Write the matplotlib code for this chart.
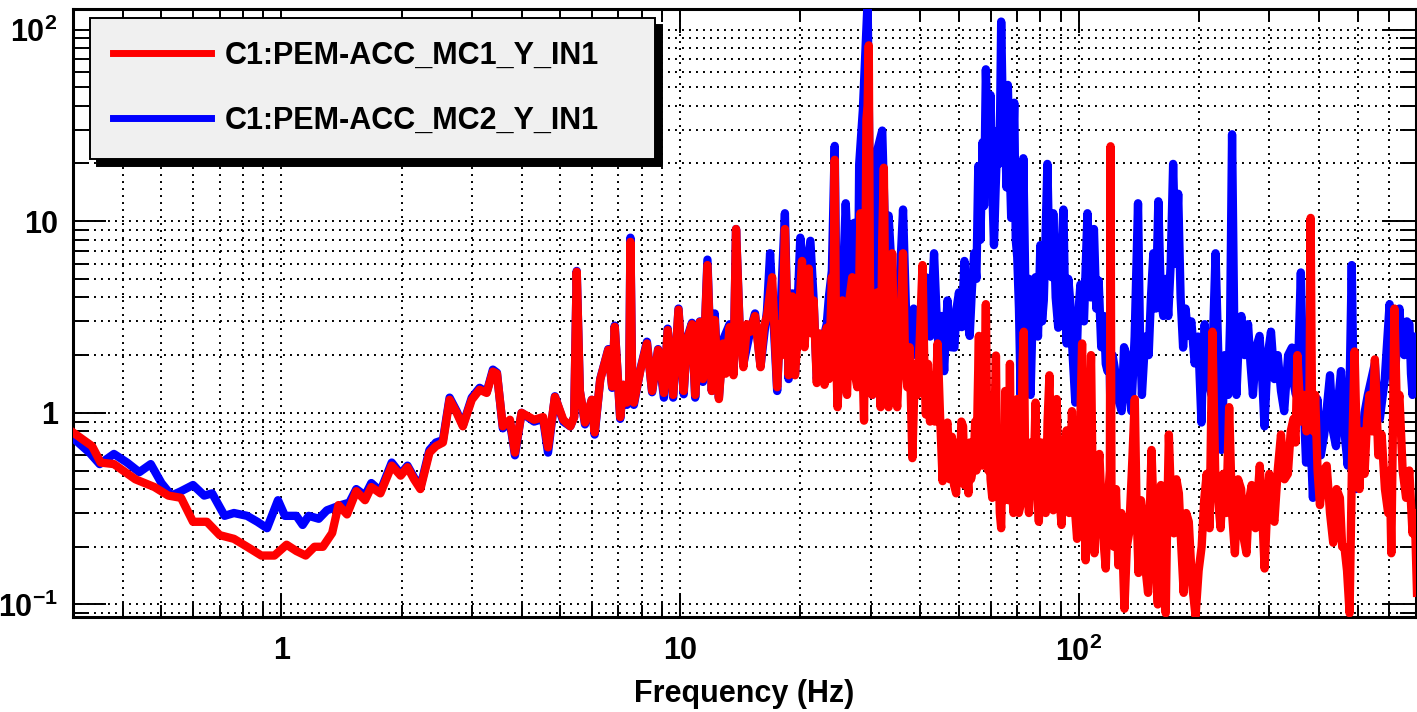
import matplotlib
matplotlib.use("Agg")
import matplotlib.pyplot as plt
from matplotlib import ticker

plt.rcParams['font.family'] = ['Liberation Sans', 'DejaVu Sans']
plt.rcParams['font.weight'] = 'bold'
plt.rcParams['mathtext.fontset'] = 'custom'
plt.rcParams['mathtext.rm'] = 'Liberation Sans:bold'
plt.rcParams['mathtext.it'] = 'Liberation Sans:bold'
plt.rcParams['mathtext.bf'] = 'Liberation Sans:bold'

# --- data: (frequency Hz, amplitude) ---
red_label = "C1:PEM-ACC_MC1_Y_IN1"
blue_label = "C1:PEM-ACC_MC2_Y_IN1"

red_low = [  # 0.3 - 10 Hz
    (0.30, 0.79), (0.335, 0.67), (0.352, 0.55), (0.38, 0.54), (0.43, 0.45), (0.48, 0.41),
    (0.52, 0.37), (0.56, 0.36), (0.60, 0.27), (0.65, 0.27), (0.70, 0.23), (0.76, 0.22),
    (0.82, 0.20), (0.89, 0.18), (0.96, 0.18), (1.03, 0.205), (1.09, 0.19), (1.15, 0.18),
    (1.21, 0.20), (1.27, 0.20), (1.34, 0.236), (1.39, 0.33), (1.46, 0.295), (1.54, 0.39),
    (1.62, 0.35), (1.68, 0.41), (1.77, 0.38), (1.89, 0.53), (1.99, 0.47), (2.07, 0.52),
    (2.15, 0.45), (2.23, 0.40), (2.35, 0.62), (2.44, 0.67), (2.54, 0.70), (2.64, 1.17),
    (2.75, 1.0), (2.85, 0.85), (3.0, 1.17), (3.14, 1.32), (3.27, 1.27), (3.39, 1.64),
    (3.47, 1.6), (3.59, 0.85), (3.74, 0.92), (3.85, 0.62), (4.0, 1.0), (4.3, 0.92),
    (4.53, 0.95), (4.66, 0.66), (4.85, 1.21), (5.09, 0.92), (5.3, 0.85), (5.42, 0.95),
    (5.5, 5.45), (5.6, 1.3), (5.77, 0.89), (6.0, 1.17), (6.1, 0.79), (6.3, 1.49),
    (6.6, 2.13), (6.75, 1.37), (6.85, 2.81), (7.07, 0.95), (7.2, 1.4), (7.35, 1.13),
    (7.45, 1.5), (7.5, 7.8), (7.58, 1.3), (7.65, 1.13), (7.95, 1.68), (8.25, 2.3),
    (8.5, 1.3), (8.8, 2.13), (9.1, 1.27), (9.3, 2.7), (9.6, 1.24), (9.9, 3.45),
]
red_mid = [  # 10 - 70 Hz
    (10.2, 1.3), (10.4, 2.4), (10.7, 2.9), (10.9, 1.24), (11.2, 2.98), (11.4, 1.5),
    (11.7, 5.9), (12.0, 1.3), (12.2, 3.05), (12.5, 1.18), (12.8, 2.3), (13.0, 1.6),
    (13.3, 2.8), (13.6, 1.57), (13.8, 9.1), (14.1, 2.65), (14.4, 1.73), (14.7, 2.9),
    (15.0, 2.65), (15.4, 3.2), (15.9, 1.73), (16.2, 2.8), (16.5, 3.2), (17.0, 5.1),
    (17.5, 1.36), (17.8, 2.9), (18.0, 2.0), (18.3, 9.1), (18.7, 1.57), (19.1, 4.05),
    (19.4, 1.57), (19.8, 3.0), (20.2, 6.2), (20.5, 2.2), (21.0, 5.66), (21.3, 2.6),
    (21.6, 3.86), (22.0, 1.43), (22.3, 2.6), (22.7, 2.19), (23.0, 1.4), (23.3, 2.78),
    (23.6, 1.5), (24.0, 5.1), (24.2, 3.0), (24.4, 20.9), (24.6, 2.0), (24.8, 1.07),
    (25.2, 2.2), (25.5, 3.86), (25.8, 1.5), (26.2, 1.24), (26.6, 4.0), (27.0, 5.1),
    (27.4, 1.6), (27.8, 1.36), (28.1, 4.5), (28.3, 11.0), (28.6, 2.0), (28.9, 0.91),
    (29.1, 4.0), (29.3, 34.0), (29.5, 40.0), (29.7, 82.7), (29.9, 5.0), (30.3, 1.24),
    (30.7, 2.0), (31.2, 4.25), (31.5, 1.6), (31.8, 1.07), (32.1, 8.0), (32.4, 19.0),
    (32.7, 3.0), (33.0, 1.5), (33.3, 1.07), (33.6, 3.0), (34.0, 6.8), (34.5, 1.5),
    (35.0, 1.07), (35.6, 2.5), (36.2, 6.8), (36.6, 2.0), (37.1, 1.36), (37.6, 2.2),
    (38.2, 0.58), (38.8, 1.8), (39.3, 1.24), (39.9, 2.5), (40.5, 5.9), (41.0, 1.5),
    (41.3, 0.98), (41.8, 1.8), (42.3, 0.9), (42.9, 1.57), (43.5, 0.9), (44.2, 2.3),
    (44.8, 1.0), (45.5, 0.44), (46.1, 0.8), (46.8, 0.89), (47.4, 0.45), (48.0, 0.75),
    (48.6, 0.42), (49.2, 0.38), (49.7, 0.7), (50.2, 0.45), (50.7, 0.9), (51.2, 0.85),
    (51.6, 0.42), (52.0, 0.6), (52.8, 0.38), (53.2, 0.7), (53.6, 0.45), (54.4, 0.53),
    (54.9, 0.9), (55.3, 0.5), (55.7, 1.2), (56.1, 2.52), (56.4, 0.6), (56.7, 0.8),
    (57.3, 0.53), (57.9, 1.2), (58.4, 3.69), (58.8, 0.9), (59.2, 0.5), (59.6, 0.8),
    (60.0, 0.45), (60.6, 0.36), (61.3, 0.8), (61.9, 1.99), (62.3, 0.5), (62.8, 0.6),
    (63.3, 0.3), (63.8, 0.25), (64.2, 0.6), (64.5, 0.7), (65.0, 0.35), (65.3, 1.3),
    (65.8, 0.5), (66.2, 0.6), (66.6, 0.35), (67.1, 1.8), (67.5, 0.5), (67.8, 0.7),
    (68.2, 0.35), (68.5, 0.3), (69.0, 0.6), (69.3, 0.8), (69.7, 0.4), (70.0, 1.18),
]
red_high = [  # 70 - 700 Hz
    (70.6, 0.3), (71.4, 0.33), (72.2, 1.85), (72.7, 2.65), (73.4, 0.4), (74.2, 0.53),
    (74.9, 0.3), (75.7, 0.7), (76.5, 0.38), (77.2, 0.6), (77.8, 1.13), (78.5, 0.4),
    (79.3, 0.27), (80.4, 0.7), (81.6, 0.58), (82.5, 0.3), (83.4, 0.9), (84.3, 1.57),
    (85.2, 0.5), (86.2, 0.31), (87.0, 0.7), (87.9, 1.18), (89.0, 0.4), (90.4, 0.26),
    (91.6, 0.6), (93.1, 0.81), (94.5, 0.3), (96.0, 1.02), (97.3, 0.35), (98.9, 0.22),
    (100.3, 0.6), (101.8, 2.3), (102.8, 0.4), (103.9, 0.17), (105.5, 0.5), (107.2, 2.0),
    (108.2, 0.4), (109.3, 0.185), (110.8, 0.45), (112.5, 0.61), (114.5, 0.25),
    (116.7, 0.154), (118.2, 0.35), (119.5, 0.5), (120.0, 24.6), (120.6, 0.4),
    (122.3, 0.2), (123.8, 0.4), (125.5, 0.16), (127.7, 0.3), (130.0, 0.095),
    (131.8, 0.2), (133.5, 0.235), (135.7, 0.5), (138.0, 1.18), (139.5, 0.3),
    (141.0, 0.146), (143.0, 0.35), (145.0, 0.28), (147.0, 0.15), (149.0, 0.115),
    (150.5, 0.3), (152.0, 0.64), (154.8, 0.2), (157.6, 0.1), (159.0, 0.25),
    (160.5, 0.42), (162.7, 0.15), (165.0, 0.09), (166.5, 0.3), (168.0, 0.77),
    (170.5, 0.3), (173.0, 0.235), (175.5, 0.45), (178.0, 0.38), (180.5, 0.2),
    (183.0, 0.115), (185.7, 0.3), (188.5, 0.27), (192.0, 0.13), (196.0, 0.087),
    (199.5, 0.15), (203.0, 0.2), (206.0, 0.35), (209.0, 0.48), (212.5, 0.25),
    (216.0, 2.65), (219.5, 0.5), (223.0, 0.36), (226.5, 0.25), (230.0, 0.48),
    (234.0, 0.3), (238.0, 1.07), (242.0, 0.3), (246.0, 0.185), (250.5, 0.45),
    (255.0, 0.4), (259.0, 0.22), (263.0, 0.185), (267.0, 0.35), (271.0, 0.42),
    (277.0, 0.25), (284.0, 0.53), (288.0, 0.3), (292.0, 0.154), (296.0, 0.3),
    (300.0, 0.48), (304.5, 0.3), (309.0, 0.27), (315.0, 0.5), (321.0, 0.77),
    (327.5, 0.45), (334.0, 0.48), (339.5, 0.8), (345.0, 0.93), (349.0, 0.7),
    (353.0, 2.0), (360.0, 0.9), (367.0, 1.24), (372.0, 0.8), (378.0, 0.9),
    (381.0, 10.4), (384.0, 1.0), (387.5, 0.8), (391.0, 1.24), (396.5, 0.5),
    (402.0, 0.33), (410.0, 0.5), (418.0, 0.53), (426.0, 0.3), (434.0, 0.21),
    (442.5, 0.4), (451.0, 0.36), (457.0, 0.2), (463.0, 0.2), (470.0, 0.15),
    (477.0, 0.09), (484.0, 0.6), (491.0, 2.09), (498.0, 0.6), (505.0, 0.4),
    (512.5, 0.8), (520.0, 0.48), (527.5, 0.9), (535.0, 1.24), (543.5, 0.8),
    (552.0, 1.9), (563.0, 0.6), (574.0, 0.77), (585.0, 0.4), (596.0, 0.3),
    (601.5, 0.5), (607.0, 0.185), (612.5, 0.8), (618.0, 3.5), (627.0, 1.0),
    (636.0, 1.24), (648.0, 0.5), (661.0, 0.36), (673.5, 0.5), (686.0, 0.235),
    (695.0, 0.3), (704.0, 0.115),
]

blue_low = [  # 0.3 - 10 Hz
    (0.30, 0.74), (0.33, 0.62), (0.35, 0.54), (0.38, 0.61), (0.41, 0.55), (0.44, 0.49),
    (0.47, 0.54), (0.50, 0.43), (0.53, 0.37), (0.56, 0.39), (0.60, 0.42), (0.64, 0.37),
    (0.67, 0.38), (0.72, 0.29), (0.76, 0.30), (0.82, 0.29), (0.87, 0.27), (0.92, 0.25),
    (0.98, 0.35), (1.02, 0.29), (1.09, 0.29), (1.13, 0.26), (1.17, 0.29), (1.24, 0.28),
    (1.30, 0.31), (1.41, 0.33), (1.48, 0.34), (1.54, 0.40), (1.62, 0.37), (1.68, 0.43),
    (1.77, 0.39), (1.89, 0.55), (1.99, 0.48), (2.07, 0.53), (2.15, 0.46), (2.23, 0.41),
    (2.35, 0.64), (2.44, 0.70), (2.54, 0.72), (2.64, 1.2), (2.75, 1.02), (2.85, 0.86),
    (3.0, 1.2), (3.14, 1.35), (3.27, 1.28), (3.39, 1.68), (3.47, 1.62), (3.59, 0.83),
    (3.74, 0.90), (3.85, 0.60), (4.0, 1.0), (4.3, 0.90), (4.53, 0.93), (4.66, 0.62),
    (4.85, 1.22), (5.09, 0.90), (5.3, 0.85), (5.42, 0.95), (5.5, 5.5), (5.6, 1.3),
    (5.77, 0.87), (6.0, 1.17), (6.1, 0.77), (6.3, 1.5), (6.6, 2.15), (6.75, 1.35),
    (6.85, 2.85), (7.07, 0.93), (7.2, 1.4), (7.35, 1.1), (7.45, 1.5), (7.5, 8.2),
    (7.58, 1.3), (7.65, 1.1), (7.95, 1.7), (8.25, 2.35), (8.5, 1.28), (8.8, 2.15),
    (9.1, 1.2), (9.3, 2.75), (9.6, 1.2), (9.9, 3.5),
]
blue_mid = [  # 10 - 70 Hz
    (10.2, 1.25), (10.4, 2.45), (10.7, 2.95), (10.9, 1.2), (11.2, 3.0), (11.4, 1.45),
    (11.7, 6.3), (12.0, 1.3), (12.2, 3.3), (12.5, 1.2), (12.8, 2.4), (13.3, 2.9),
    (13.6, 1.6), (13.8, 9.1), (14.1, 2.7), (14.4, 1.8), (15.0, 2.7), (15.4, 3.3),
    (15.9, 1.75), (16.5, 3.4), (16.8, 6.8), (17.5, 1.3), (17.8, 3.0), (18.3, 11.0),
    (18.7, 1.5), (19.1, 4.2), (19.4, 1.6), (20.0, 8.2), (20.5, 4.5), (21.2, 7.9),
    (21.6, 3.9), (22.0, 1.5), (22.7, 2.3), (23.3, 2.9), (23.6, 4.05), (24.0, 5.5),
    (24.4, 24.7), (24.8, 1.1), (25.5, 4.0), (26.0, 12.4), (26.7, 3.2), (27.3, 9.8),
    (27.8, 1.4), (28.1, 19.8), (28.7, 37.8), (29.5, 140.0), (30.3, 1.24), (31.2, 23.5),
    (32.1, 29.7), (32.7, 7.5), (33.3, 10.7), (34.4, 3.2), (35.4, 4.25), (36.2, 11.5),
    (37.1, 2.0), (37.8, 3.0), (38.5, 3.5), (39.0, 2.0), (39.6, 2.3), (40.5, 3.5),
    (41.3, 5.1), (42.3, 2.5), (43.3, 6.8), (44.0, 3.0), (44.6, 2.0), (45.2, 3.2),
    (45.9, 1.65), (46.4, 2.8), (46.8, 3.86), (47.7, 2.2), (48.7, 2.19), (49.3, 3.5),
    (50.0, 4.25), (50.8, 2.8), (51.6, 6.2), (52.4, 3.2), (53.2, 2.52), (53.9, 4.5),
    (54.6, 6.8), (55.3, 5.0), (55.9, 19.4), (56.6, 8.0), (57.3, 25.8), (57.8, 12.0),
    (58.4, 62.0), (59.2, 20.0), (60.0, 45.5), (60.6, 15.0), (61.2, 7.5), (61.8, 15.0),
    (62.5, 29.7), (63.2, 20.0), (63.8, 110.0), (64.5, 30.0), (65.3, 27.0), (65.8, 15.0),
    (66.3, 51.4), (67.0, 20.0), (67.6, 10.4), (68.2, 20.0), (68.8, 41.5), (69.4, 8.0),
    (70.0, 6.5),
]
blue_high = [  # 70 - 700 Hz
    (70.7, 3.5), (71.4, 1.24), (72.0, 6.0), (72.5, 21.3), (73.3, 5.0), (74.2, 2.52),
    (74.9, 5.0), (75.6, 1.24), (76.7, 4.0), (77.8, 5.1), (78.9, 2.5), (80.0, 7.5),
    (80.8, 3.0), (81.6, 3.86), (82.4, 8.0), (83.3, 19.9), (84.3, 6.0), (85.4, 5.1),
    (86.2, 11.0), (87.4, 4.0), (88.7, 2.78), (90.0, 6.0), (91.4, 11.5), (92.2, 4.0),
    (93.1, 2.3), (94.0, 5.0), (95.0, 3.86), (96.4, 2.0), (97.9, 1.13), (99.3, 3.0),
    (100.8, 4.67), (102.9, 3.0), (105.0, 11.0), (107.0, 4.0), (109.0, 9.1), (110.5, 3.5),
    (112.0, 4.9), (113.7, 2.2), (115.5, 3.2), (116.7, 1.8), (117.9, 1.65), (119.0, 2.5),
    (120.0, 0.93), (121.4, 2.0), (122.8, 1.73), (125.3, 1.2), (127.9, 1.02), (129.7, 2.2),
    (131.6, 2.0), (133.4, 1.3), (135.3, 1.02), (137.9, 2.5), (140.6, 12.4), (142.2, 2.5),
    (143.8, 1.24), (146.6, 2.5), (149.5, 2.0), (151.5, 4.0), (153.6, 6.8), (155.8, 3.5),
    (158.1, 12.7), (160.4, 4.0), (162.7, 3.2), (165.0, 5.0), (167.4, 3.2), (169.8, 6.0),
    (172.2, 19.9), (174.7, 6.0), (177.3, 13.9), (179.8, 4.0), (182.4, 2.19), (185.0, 3.5),
    (187.7, 2.52), (191.3, 3.0), (195.0, 1.81), (198.9, 2.5), (202.8, 0.89), (204.7, 2.0),
    (206.6, 2.9), (210.7, 1.5), (214.9, 1.24), (217.4, 3.0), (220.0, 6.8), (223.8, 1.8),
    (227.6, 0.64), (232.0, 2.0), (236.6, 1.24), (239.3, 3.0), (242.0, 28.4), (245.0, 3.0),
    (248.2, 1.24), (251.7, 2.5), (255.3, 3.2), (260.3, 2.0), (265.4, 2.9), (269.2, 1.8),
    (273.0, 1.24), (278.3, 2.2), (283.6, 2.52), (287.7, 1.6), (291.8, 0.85), (297.4, 2.0),
    (303.0, 2.65), (309.0, 1.5), (315.0, 2.0), (321.0, 1.3), (327.0, 1.02), (334.5, 2.0),
    (342.0, 2.19), (346.0, 1.4), (350.0, 1.24), (355.0, 2.0), (360.0, 5.4), (365.5, 1.2),
    (371.0, 0.55), (378.5, 1.0), (386.0, 0.36), (391.0, 0.8), (396.0, 1.18), (404.0, 0.6),
    (412.0, 0.77), (419.0, 1.1), (426.0, 1.57), (433.5, 0.8), (441.0, 0.67), (447.5, 1.2),
    (454.0, 1.65), (463.0, 0.8), (472.0, 0.53), (477.5, 1.5), (483.0, 5.9), (489.0, 1.0),
    (495.0, 0.4), (502.5, 0.9), (510.0, 0.61), (520.0, 1.0), (530.0, 1.24), (541.0, 1.5),
    (552.0, 1.81), (560.0, 1.1), (568.0, 0.93), (584.5, 1.5), (601.0, 3.69), (609.5, 1.8),
    (618.0, 1.24), (627.0, 2.5), (636.0, 3.5), (645.0, 2.2), (654.0, 2.0), (664.0, 3.0),
    (674.0, 2.9), (680.0, 1.6), (686.0, 1.24), (695.0, 2.5), (704.0, 1.81),
]

x_range = (0.3, 700)
y_range = (0.086, 128)
x_label = "Frequency (Hz)"


def root_label(val, pos):
    # ROOT-style decade labels: 1 and 10 plain, others as powers
    labels = {0.1: r"$10^{-1}$", 1.0: "1", 10.0: "10", 100.0: r"$10^{2}$"}
    for k, s in labels.items():
        if abs(val - k) < 1e-6 * k:
            return s
    return ""


red_f, red_a = zip(*(red_low + red_mid + red_high))
blue_f, blue_a = zip(*(blue_low + blue_mid + blue_high))

fig = plt.figure(figsize=(14.17, 7.12), dpi=100)
ax = fig.add_axes([0.0515, 0.1334, 0.9478, 0.854])

ax.plot(blue_f, blue_a, color="#0000ff", lw=6, label=blue_label, zorder=3)
ax.plot(red_f, red_a, color="#ff0000", lw=6, label=red_label, zorder=4)

ax.set_xscale("log")
ax.set_yscale("log")
ax.set_xlim(*x_range)
ax.set_ylim(*y_range)

for axis in (ax.xaxis, ax.yaxis):
    axis.set_major_locator(ticker.LogLocator(base=10))
    axis.set_minor_locator(ticker.LogLocator(base=10, subs=range(2, 10), numticks=50))
    axis.set_major_formatter(ticker.FuncFormatter(root_label))
    axis.set_minor_formatter(ticker.NullFormatter())

ax.tick_params(axis="x", which="major", direction="in", length=17, width=1.4,
               top=True, bottom=True, labelsize=22, pad=14)
ax.tick_params(axis="x", which="minor", direction="in", length=8.6, width=1.4,
               top=True, bottom=True)
ax.tick_params(axis="y", which="major", direction="in", length=24, width=1.4,
               left=True, right=True, labelsize=22, pad=11)
ax.tick_params(axis="y", which="minor", direction="in", length=11.5, width=1.4,
               left=True, right=True)

ax.grid(True, which="both", color="black", linestyle=(0, (1, 2.6)), linewidth=1.4)
ax.set_axisbelow(True)
for sp in ax.spines.values():
    sp.set_linewidth(2.2)

ax.set_xlabel(x_label, fontsize=22, fontweight="bold", labelpad=8)

handles, labels = ax.get_legend_handles_labels()
leg = ax.legend(handles[::-1], labels[::-1], loc="upper left",
                bbox_to_anchor=(0.0127, 0.727, 0.4206, 0.258), mode="expand",
                borderaxespad=0, fancybox=False, framealpha=1,
                facecolor="#f0f0f0", edgecolor="black",
                shadow={"color": "black", "alpha": 1, "ox": 5, "oy": -5},
                prop={"weight": "bold", "size": 22},
                handlelength=3.2, handletextpad=0.45, borderpad=0.75,
                labelspacing=1.15)
leg.get_frame().set_linewidth(1.4)
for line in leg.get_lines():
    line.set_linewidth(5)
leg.set_zorder(10)

fig.savefig("out.png", dpi=100)
